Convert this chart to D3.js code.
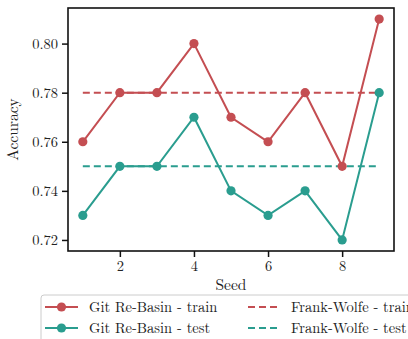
<!DOCTYPE html>
<html>
<head>
<meta charset="utf-8">
<script src="https://cdn.jsdelivr.net/npm/d3@7"></script>
<style>
  body { margin: 0; background: #fff; }
  text { font-family: "Latin Modern Roman", "DejaVu Serif", serif; fill: #222; }
</style>
</head>
<body>
<div id="root"></div>
<script>
const seeds = [1, 2, 3, 4, 5, 6, 7, 8, 9];
const trainAcc = [0.76, 0.78, 0.78, 0.80, 0.77, 0.76, 0.78, 0.75, 0.81];
const testAcc = [0.73, 0.75, 0.75, 0.77, 0.74, 0.73, 0.74, 0.72, 0.78];
const fwTrain = 0.78;
const fwTest = 0.75;
const yTicks = [0.72, 0.74, 0.76, 0.78, 0.80];
const xTicks = [2, 4, 6, 8];

const RED = '#c44e52';
const TEAL = '#2a9d8f';

const W = 408, H = 339;
const plotL = 68, plotR = 394, plotT = 8, plotB = 251;

const svg = d3.select('#root').append('svg')
  .attr('width', W).attr('height', H);

const x = d3.scaleLinear().domain([0.6, 9.4]).range([plotL, plotR]);
const y = d3.scaleLinear().domain([0.7155, 0.8145]).range([plotB, plotT]);

const line = d3.line().x((d, i) => x(seeds[i])).y(d => y(d));

// dashed reference lines
[[fwTrain, RED], [fwTest, TEAL]].forEach(([v, c]) => {
  svg.append('line')
    .attr('x1', x(seeds[0])).attr('x2', x(seeds[seeds.length - 1]))
    .attr('y1', y(v)).attr('y2', y(v))
    .attr('stroke', c).attr('stroke-width', 2)
    .attr('stroke-dasharray', '7,4');
});

[[trainAcc, RED], [testAcc, TEAL]].forEach(([vals, c]) => {
  svg.append('path').datum(vals)
    .attr('d', line).attr('fill', 'none')
    .attr('stroke', c).attr('stroke-width', 2);
  svg.selectAll(null).data(vals).enter().append('circle')
    .attr('cx', (d, i) => x(seeds[i])).attr('cy', d => y(d))
    .attr('r', 4.6).attr('fill', c);
});

// axes
const xAxis = svg.append('g').attr('transform', `translate(0,${plotB})`)
  .call(d3.axisBottom(x).tickValues(xTicks).tickSize(6).tickPadding(4).tickFormat(d3.format('d')));
const yAxis = svg.append('g').attr('transform', `translate(${plotL},0)`)
  .call(d3.axisLeft(y).tickValues(yTicks).tickSize(6).tickPadding(4).tickFormat(d3.format('.2f')));
[xAxis, yAxis].forEach(g => {
  g.select('.domain').remove();
  g.selectAll('line').attr('stroke', '#111').attr('stroke-width', 1.5);
  g.selectAll('text').attr('font-size', 14.5).style('fill', '#222');
});

svg.append('rect')
  .attr('x', plotL).attr('y', plotT)
  .attr('width', plotR - plotL).attr('height', plotB - plotT)
  .attr('fill', 'none').attr('stroke', '#111').attr('stroke-width', 1.6);

svg.append('text').attr('x', (plotL + plotR) / 2).attr('y', 290)
  .attr('text-anchor', 'middle').attr('font-size', 15.5).text('Seed');
svg.append('text')
  .attr('transform', `translate(18,${(plotT + plotB) / 2}) rotate(-90)`)
  .attr('text-anchor', 'middle').attr('font-size', 15.5).text('Accuracy');

// legend
const legend = svg.append('g');
legend.append('rect')
  .attr('x', 41).attr('y', 295).attr('width', 390).attr('height', 50)
  .attr('rx', 3).attr('fill', '#fff').attr('stroke', '#ccc').attr('stroke-width', 1);

const items = [
  { label: 'Git Re-Basin - train', color: RED, dashed: false, lx: 45, ly: 307 },
  { label: 'Git Re-Basin - test', color: TEAL, dashed: false, lx: 45, ly: 328 },
  { label: 'Frank-Wolfe - train', color: RED, dashed: true, lx: 248, ly: 307 },
  { label: 'Frank-Wolfe - test', color: TEAL, dashed: true, lx: 248, ly: 328 }
];
items.forEach(it => {
  const len = it.dashed ? 30 : 33;
  legend.append('line')
    .attr('x1', it.lx).attr('x2', it.lx + len)
    .attr('y1', it.ly).attr('y2', it.ly)
    .attr('stroke', it.color).attr('stroke-width', 2)
    .attr('stroke-dasharray', it.dashed ? '7,4' : null);
  if (!it.dashed) {
    legend.append('circle').attr('cx', it.lx + len / 2).attr('cy', it.ly)
      .attr('r', 4.6).attr('fill', it.color);
  }
  legend.append('text')
    .attr('x', it.dashed ? 291 : 89).attr('y', it.ly + 5)
    .attr('font-size', 14.5).text(it.label);
});
</script>
</body>
</html>
